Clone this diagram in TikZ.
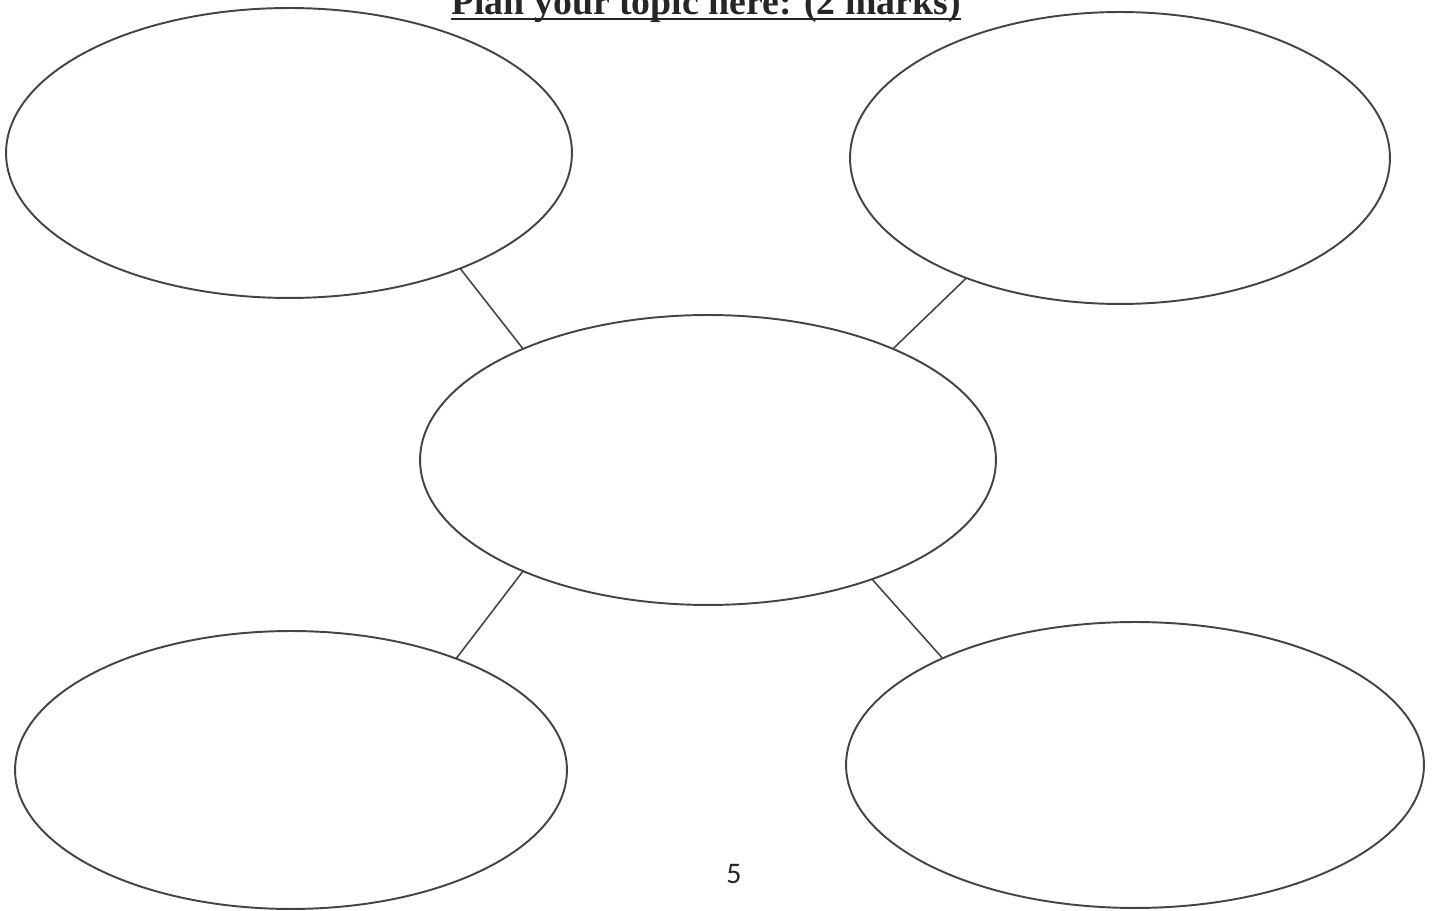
\documentclass[tikz,border=0pt]{standalone}
\usepackage{fontspec}
\setmainfont{Liberation Serif}
\newfontfamily\pagefont{Carlito}
\usetikzlibrary{shapes.geometric,calc}
\definecolor{inkgray}{RGB}{68,68,68}

\begin{document}
\begin{tikzpicture}[x=0.02cm,y=-0.02cm,
    bubble/.style={draw=inkgray,ellipse,line width=1.1pt,inner sep=0pt,outer sep=0pt},
    link/.style={draw=inkgray,line width=0.9pt}]
  \useasboundingbox (0,0) rectangle (1438,911);
  % 标题（上端被裁掉）
  \node[anchor=base,font=\bfseries\fontsize{21.5}{24}\selectfont,text=black!85,inner xsep=0pt]
        (title) at (706,15) {Plan your topic here: (2 marks)};
  \draw[black!85,line width=1.6pt] ($(title.base west)+(0,4)$) -- ($(title.base east)+(0,4)$);
  % 中心椭圆
  \node[bubble,minimum width=11.52cm,minimum height=5.8cm] (C) at (708,460) {};
  % 四个外围椭圆
  \node[bubble,minimum width=11.32cm,minimum height=5.8cm] (TL) at (289,153) {};
  \node[bubble,minimum width=10.8cm,minimum height=5.84cm] (TR) at (1120,158) {};
  \node[bubble,minimum width=11.04cm,minimum height=5.56cm] (BL) at (291,770) {};
  \node[bubble,minimum width=11.56cm,minimum height=5.72cm] (BR) at (1135,765) {};
  % 连线
  \draw[link] (TL.-34.5) -- (C.149.3);
  \draw[link] (TR.-142) -- (C.31.2);
  \draw[link] (C.-149.1) -- (BL.34.4);
  \draw[link] (C.-36.2) -- (BR.151.3);
  % 页码
  \node[font=\pagefont\fontsize{17}{20}\selectfont,text=black!85] (pageno) at (734,874) {5};
\end{tikzpicture}
\end{document}
